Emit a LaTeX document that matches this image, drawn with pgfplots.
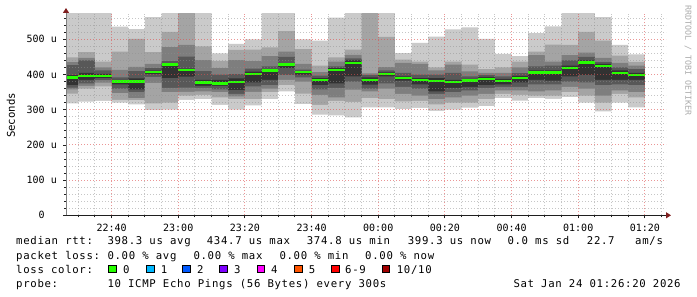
\documentclass[border=0pt]{standalone}
\usepackage{fontspec}
\usepackage{pgfplots}
\usepackage{pgfplotstable}
\pgfplotsset{compat=1.18}
\usetikzlibrary{arrows.meta}
\newfontfamily\monofont{DejaVu Sans Mono}
\newfontfamily\legfont[LetterSpace=6.4]{DejaVu Sans Mono}
\definecolor{c1}{HTML}{CACACA}
\definecolor{c2}{HTML}{A4A4A4}
\definecolor{c3}{HTML}{7E7E7E}
\definecolor{c4}{HTML}{585858}
\definecolor{c5}{HTML}{323232}
\definecolor{l0}{HTML}{26FF00}
\definecolor{l1}{HTML}{00B8FF}
\definecolor{l2}{HTML}{0059FF}
\definecolor{l3}{HTML}{7E00FF}
\definecolor{l4}{HTML}{FF00FF}
\definecolor{l5}{HTML}{FF5500}
\definecolor{l6}{HTML}{FF0000}
\definecolor{l10}{HTML}{A10000}
\definecolor{gridc}{HTML}{8F8F8F}
\definecolor{mgridc}{HTML}{DE5050}
\definecolor{arrowc}{HTML}{801F1F}
\definecolor{axisc}{HTML}{1F1F1F}

% minutes after 22:00; p1..p10 = sorted pings (us); m = median (us)
\pgfplotstableread{
x       p1  p2  p3  p4  p5  p6  p7  p8  p9  p10 m
26.3333 318 346 358 363 370 398 427 435 449 600 391
30      323 360 368 375 385 405 440 447 464 600 396
35      325 366 377 384 390 402 412 420 437 600 396
40      320 328 347 360 372 385 392 413 465 536 380
45      315 327 333 350 358 389 410 422 501 529 380
50      299 318 376 393 401 411 418 430 464 563 407
55      300 320 350 362 390 432 438 478 521 600 429
60      328 340 351 363 394 417 451 484 600 620 413
65      330 342 352 362 368 385 410 441 480 600 377
70      314 335 350 358 368 385 400 418 439 460 374.8
75      300 330 338 345 356 389 401 441 470 487 378
80      312 330 351 366 378 408 417 438 471 500 401
85      330 350 360 370 385 415 423 452 477 600 411
90      352 370 385 398 418 432 450 465 523 600 428
95      316 346 380 392 400 410 414 430 472 500 407
100     286 314 342 358 370 390 397 407 425 496 384
105     284 325 335 362 375 418 423 437 449 562 413
110     278 322 357 380 395 440 446 456 471 600 433.5
115     307 333 352 360 371 392 398 403 600 650 385
120     307 330 360 375 395 406 412 421 507 600 402
125     302 324 345 365 383 395 405 433 442 461 390
130     305 325 340 360 372 390 400 430 437 490 384
135     297 315 330 345 352 390 400 412 420 508 381
140     300 320 335 350 362 385 405 428 437 528 378
145     306 320 340 355 365 388 395 409 428 534 383
150     310 330 345 362 370 393 398 405 415 501 388
155     333 345 355 365 372 388 395 405 420 459 382
160     326 342 355 365 378 396 404 420 437 452 390
165     333 340 352 372 385 412 423 455 465 518 406
170     331 340 355 372 383 412 425 437 485 537 406
175     336 350 365 380 395 425 440 455 484 600 419
180     320 340 360 378 398 440 450 462 521 600 434.7
185     295 320 340 370 385 430 435 447 496 563 425
190     320 345 355 372 385 412 420 433 454 484 405
195     307 335 350 370 385 405 415 425 436 457 399.3
200     307 335 350 370 385 405 415 425 436 457 399.3
}\smoke

\newcommand\lf{\legfont\fontsize{10.67bp}{12bp}\selectfont}

\begin{document}
\begin{tikzpicture}
\useasboundingbox (0,0) rectangle (697bp,297bp);
\fill[white] (0,0) rectangle (697bp,297bp);
\begin{axis}[
  at={(66bp,81.7bp)}, anchor=south west,
  scale only axis, width=600bp, height=201.3bp,
  xmin=26.3333, xmax=206.3333, ymin=0, ymax=572,
  axis lines=left,
  axis on top,
  clip=true,
  xtick={40,60,...,200},
  xticklabels={22:40,23:00,23:20,23:40,00:00,00:20,00:40,01:00,01:20},
  minor xtick={30,35,45,50,55,65,70,75,85,90,95,105,110,115,125,130,135,145,150,155,165,170,175,185,190,195,205},
  ytick={0,100,...,500},
  yticklabels={0\phantom{\ u},100 u,200 u,300 u,400 u,500 u},
  minor ytick={20,40,60,80,120,140,160,180,220,240,260,280,320,340,360,380,420,440,460,480,520,540,560},
  grid=both,
  major grid style={mgridc, opacity=0.6, line width=0.9bp, dash pattern=on 1bp off 2bp},
  minor grid style={gridc, opacity=0.5, line width=0.9bp, dash pattern=on 1bp off 2bp},
  tick label style={font=\monofont\fontsize{10bp}{12bp}\selectfont, text=black},
  xticklabel style={anchor=base, inner sep=0pt, yshift=-13bp},
  yticklabel style={anchor=east, inner sep=0pt, xshift=-6bp},
  tick style={axisc, line width=0.8bp},
  major tick length=3bp, minor tick length=2bp,
  tick align=outside,
  x axis line style={axisc, line width=1bp, shorten >=-5bp, -{Triangle[length=5bp,width=6bp,color=arrowc]}},
  y axis line style={gray, line width=1bp, shorten >=-6bp, -{Triangle[length=5bp,width=6bp,color=arrowc]}},
]
\addplot[const plot mark left, fill=c1, draw=none] table[x=x,y=p10]{\smoke} \closedcycle;
\addplot[const plot mark left, fill=c2, draw=none] table[x=x,y=p9]{\smoke} \closedcycle;
\addplot[const plot mark left, fill=c3, draw=none] table[x=x,y=p8]{\smoke} \closedcycle;
\addplot[const plot mark left, fill=c4, draw=none] table[x=x,y=p7]{\smoke} \closedcycle;
\addplot[const plot mark left, fill=c5, draw=none] table[x=x,y=p6]{\smoke} \closedcycle;
\addplot[const plot mark left, fill=c4, draw=none] table[x=x,y=p5]{\smoke} \closedcycle;
\addplot[const plot mark left, fill=c3, draw=none] table[x=x,y=p4]{\smoke} \closedcycle;
\addplot[const plot mark left, fill=c2, draw=none] table[x=x,y=p3]{\smoke} \closedcycle;
\addplot[const plot mark left, fill=c1, draw=none] table[x=x,y=p2]{\smoke} \closedcycle;
\addplot[const plot mark left, fill=white, draw=none] table[x=x,y=p1]{\smoke} \closedcycle;
\addplot[jump mark left, draw=l0, line width=2.4bp] table[x=x,y=m]{\smoke};
\end{axis}
% axis title and watermark
\node[rotate=90, inner sep=0pt, font=\monofont\fontsize{10.67bp}{12bp}\selectfont] at (11bp,181.5bp) {Seconds};
\node[rotate=-90, anchor=west, inner sep=0pt, text=gray!65, font=\monofont\fontsize{8.3bp}{10bp}\selectfont] at (688bp,292bp) {RRDTOOL / TOBI OETIKER};
% legend rows
\begin{scope}[every node/.style={anchor=base west, inner sep=0pt}]
\node at (16bp,52bp) {\lf median rtt:};
\node at (107.3bp,52bp) {\lf 398.3 us avg};
\node at (206.7bp,52bp) {\lf 434.7 us max};
\node at (306.7bp,52bp) {\lf 374.8 us min};
\node at (407.7bp,52bp) {\lf 399.3 us now};
\node at (507.3bp,52bp) {\lf 0.0 ms sd};
\node at (586.7bp,52bp) {\lf 22.7};
\node at (635bp,52bp) {\lf am/s};
\node at (16bp,37.7bp) {\lf packet loss:};
\node at (107.3bp,37.7bp) {\lf 0.00 \% avg};
\node at (193.3bp,37.7bp) {\lf 0.00 \% max};
\node at (279.3bp,37.7bp) {\lf 0.00 \% min};
\node at (365bp,37.7bp) {\lf 0.00 \% now};
\node at (16bp,24bp) {\lf loss color:};
\node at (123bp,24bp) {\lf 0};
\node at (160.7bp,24bp) {\lf 1};
\node at (197bp,24bp) {\lf 2};
\node at (234bp,24bp) {\lf 3};
\node at (271bp,24bp) {\lf 4};
\node at (308.7bp,24bp) {\lf 5};
\node at (345bp,24bp) {\lf 6-9};
\node at (396.7bp,24bp) {\lf 10/10};
\node at (16bp,10bp) {\lf probe:};
\node at (107.3bp,10bp) {\lf 10 ICMP Echo Pings (56 Bytes) every 300s};
\node at (513.3bp,10bp) {\lf Sat Jan 24 01:26:20 2026};
\end{scope}
\begin{scope}[every node/.style={anchor=south west, inner sep=0pt, minimum size=7.5bp, draw=black, line width=0.8bp}]
\node[fill=l0] at (108.3bp,24bp) {};
\node[fill=l1] at (146bp,24bp) {};
\node[fill=l2] at (182.3bp,24bp) {};
\node[fill=l3] at (219.3bp,24bp) {};
\node[fill=l4] at (256.7bp,24bp) {};
\node[fill=l5] at (294bp,24bp) {};
\node[fill=l6] at (331bp,24bp) {};
\node[fill=l10] at (381.7bp,24bp) {};
\end{scope}
\end{tikzpicture}
\end{document}
